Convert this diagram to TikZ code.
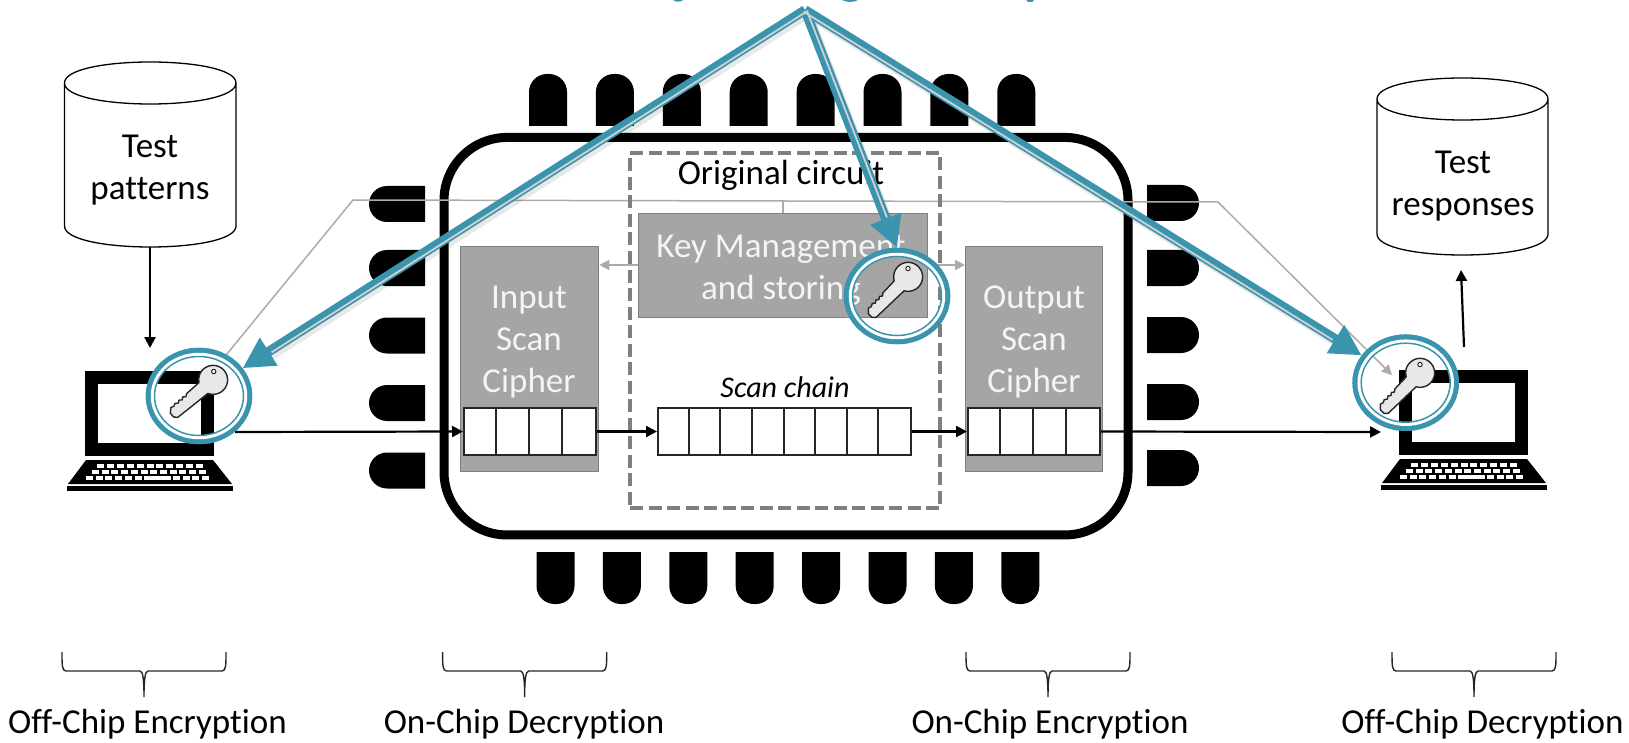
\documentclass[tikz,border=0pt]{standalone}
\usepackage{fontspec}
\setmainfont[Ligatures=NoCommon]{Carlito}
\usetikzlibrary{arrows.meta,shapes.geometric}
\definecolor{tealc}{HTML}{3A94AD}
\definecolor{boxgray}{HTML}{A5A5A5}
\definecolor{edgegray}{HTML}{7F7F7F}
\definecolor{thingray}{HTML}{ABABAB}
\definecolor{soft}{HTML}{F4F4F4}
\tikzset{
  txt/.style={font=\fontsize{35}{42}\selectfont,align=center,inner sep=0pt},
  whitetxt/.style={txt,text=soft},
  graybox/.style={draw=edgegray,line width=1.3pt,fill=boxgray,inner sep=0pt,anchor=north west},
  regbox/.style={draw=black!85,line width=2pt,fill=white,inner sep=0pt,anchor=north west,minimum height=47pt},
  cell/.style={draw=black!85,line width=2pt},
  flow/.style={line width=2.2pt,-{Triangle[length=11pt,width=11pt]}},
  thinflow/.style={draw=thingray,line width=1.5pt,-{Triangle[length=10pt,width=10pt]}},
  thinline/.style={draw=thingray,line width=1.5pt},
  tealarrow/.style={draw=tealc,line width=9.5pt,-{Triangle[length=31pt,width=31pt]}},
  tealinner/.style={draw=black!18,line width=1.8pt,shorten >=33pt},
  tealshadow/.style={draw=black,opacity=.09,line width=10pt,shorten >=30pt},
  ringout/.style={ellipse,draw=tealc,line width=6.5pt,minimum width=100pt,minimum height=90pt,inner sep=0pt},
  ringgap/.style={ellipse,draw=white,line width=3.5pt,minimum width=93pt,minimum height=83pt,inner sep=0pt},
  ringin/.style={ellipse,draw=tealc,line width=1.5pt,minimum width=89pt,minimum height=79pt,inner sep=0pt},
  brc/.style={draw=black!85,line width=1.4pt},
  laptop/.pic={
    \node[draw=black,fill=white,line width=13pt,minimum width=116pt,minimum height=72pt,inner sep=0pt] (-screen) at (64.5,42.5) {};
    \fill[black] (1,89) -- (128,89) -- (147,113) -- (-17,113) -- cycle;
    \fill[black] (-18,114.5) rectangle (148,120);
    \foreach \i in {0,...,10} \fill[white] ({12+9.9*\i},93.3) rectangle ++(7,3.4);
    \foreach \i in {0,...,11} \fill[white] ({7+9.7*\i},99.3) rectangle ++(7,3.4);
    \foreach \i in {0,...,5} \fill[white] ({1+9.7*\i},105.3) rectangle ++(7,3.4);
    \fill[white] (59,105.3) rectangle ++(27,3.4);
    \foreach \i in {0,...,3} \fill[white] ({88+9.7*\i},105.3) rectangle ++(7,3.4);
  },
  keyicon/.pic={
    \draw[x=1pt,y=1pt,fill=black!9,draw=black!85,line width=1.4pt,line join=round]
      (12.5,-7) -- (29,-6.5) -- (31.5,-4.6) -- (34,-6.5) -- (36.5,-4.6) -- (39,-6.5) -- (41.5,-4.6) -- (44,-6.5) -- (47,-5) -- (50,-6)
      -- (54,-2) -- (54,3) -- (51,6) -- (12.5,7)
      arc[start angle=29,end angle=331,radius=14.5] -- cycle;
    \draw[x=1pt,y=1pt,fill=white,draw=black!85,line width=1pt] (-6,-6) circle (2.2);
  }
}
\newcommand{\cylshape}[5]{% x1 x2 centre-y-top y-bottom ry-control
  \draw[line width=1.3pt,fill=white] (#1,#3) -- (#1,#4) .. controls (#1,#4+#5) and (#2,#4+#5) .. (#2,#4) -- (#2,#3)
    .. controls (#2,#3-#5) and (#1,#3-#5) .. (#1,#3) .. controls (#1,#3+#5) and (#2,#3+#5) .. (#2,#3);
}
\newcommand{\bracemark}[2]{% left right
  \pgfmathsetmacro{\mymid}{(#1+#2)/2}
  \draw[brc] (#1,652) .. controls (#1,665) and (#1,671) .. (#1+4,671) -- (\mymid-4,671)
     .. controls (\mymid-1,671) and (\mymid,680) .. (\mymid,697)
     .. controls (\mymid,680) and (\mymid+1,671) .. (\mymid+4,671) -- (#2-4,671)
     .. controls (#2,671) and (#2,665) .. (#2,652);
}
\begin{document}
\begin{tikzpicture}[x=1pt,y=-1pt]
\useasboundingbox (0,0) rectangle (1629,743);
% cropped title descenders
\fill[tealc] (673,0) .. controls (675,2.2) and (681,2.2) .. (683,0) -- cycle;
\fill[tealc] (842,0) .. controls (846,2.6) and (854,2.6) .. (858,0) -- cycle;
\fill[tealc] (1026,0) -- (1028,2) -- (1032,2) -- (1034,0) -- cycle;
% pins
\foreach \c in {0,...,7} {
  \pgfmathsetmacro{\px}{529+66.9*\c}
  \fill[black] (\px,126) [rounded corners=18pt] -- (\px,74) -- (\px+38,74) [sharp corners] -- (\px+38,126) -- cycle;
  \pgfmathsetmacro{\qx}{536.5+66.4*\c}
  \fill[black] (\qx,552) -- (\qx+38,552) [rounded corners=18pt] -- (\qx+38,604) -- (\qx,604) [sharp corners] -- cycle;
}
\foreach \c in {204,268,335.5,403,470.5}
  \fill[black] (425,\c-18) [rounded corners=18pt] -- (369,\c-18) -- (369,\c+18) [sharp corners] -- (425,\c+18) -- cycle;
\foreach \c in {203,268,335,402,468}
  \fill[black] (1147,\c-18) [rounded corners=18pt] -- (1199,\c-18) -- (1199,\c+18) [sharp corners] -- (1147,\c+18) -- cycle;
% chip
\node[draw=black,line width=9pt,rounded corners=63pt,minimum width=684pt,minimum height=397.5pt,inner sep=0pt] (chip) at (786,336.2) {};
% databases
\cylshape{64.5}{236}{83}{226}{28}
\cylshape{1377}{1548}{99}{234}{28}
\node[txt] (patterns) at (150,170.5) {Test\\patterns};
\node[txt] (responses) at (1463,186.5) {Test\\responses};
% laptops
\pic (lapL) at (85,371) {laptop};
\pic (lapR) at (1399,370) {laptop};
% free ends
\coordinate (apex) at (805,10);
\coordinate (grayL) at (222,360);
\coordinate (grayA) at (353,200);
\coordinate (grayB) at (1218,202);
\coordinate (grayT) at (1392,375);
\coordinate (outL) at (235,432);
\coordinate (inR) at (1381,432);
\coordinate (dbL) at (150,247);
\coordinate (dbLe) at (150,348);
\coordinate (dbR) at (1461,270);
\coordinate (dbRs) at (1464,347);
% thin gray key distribution
\draw[thinline] (grayL) -- (grayA) -- (grayB);
\draw[thinflow] (grayB) -- (grayT);
% dashed original circuit
\node[draw=edgegray,line width=4pt,dash pattern=on 13pt off 5.5pt,minimum width=310pt,minimum height=355pt,inner sep=0pt,anchor=north west] (orig) at (628,151) {};
% boxes
\node[graybox,minimum width=289pt,minimum height=104pt] (kms) at (638,213) {};
\node[graybox,minimum width=138pt,minimum height=225pt] (inbox) at (460,246) {};
\node[graybox,minimum width=137pt,minimum height=225pt] (outbox) at (965,246) {};
\draw[thinline] (kms.north) -- (kms.north |- grayA);
\coordinate (kmsL) at (638,265);
\coordinate (kmsR) at (927,265);
\draw[thinflow] (kmsL) -- (inbox.east |- kmsL);
\draw[thinflow] (kmsR) -- (outbox.west |- kmsR);
\node[txt] (orgtxt) at (781,175.5) {Original circuit};
\node[whitetxt] (kmstxt) at (781,270) {Key Management\\and storing};
\node[whitetxt] (intxt) at (529,342) {Input\\Scan\\Cipher};
\node[whitetxt] (outtxt) at (1034,342) {Output\\Scan\\Cipher};
\node[txt,font=\fontsize{30}{34}\selectfont\itshape] (sctxt) at (785,387) {Scan chain};
% registers
\node[regbox,minimum width=132pt] (regI) at (463,407) {};
\node[regbox,minimum width=253pt] (regS) at (657,407) {};
\node[regbox,minimum width=132pt] (regO) at (967,407) {};
\foreach \i in {1,2,3} {
  \draw[cell] (463+33*\i,407) -- (463+33*\i,454);
  \draw[cell] (967+33*\i,407) -- (967+33*\i,454);
}
\foreach \i in {1,...,7}
  \draw[cell] (657+31.625*\i,407) -- (657+31.625*\i,454);
% black flow arrows
\draw[flow] (dbL) -- (dbLe);
\draw[flow] (dbRs) -- (dbR);
\draw[flow] (outL) -- (regI.west);
\draw[flow] (regI.east) -- (regS.west);
\draw[flow] (regS.east) -- (regO.west);
\draw[flow] (regO.east) -- (inR);
% rings (positions)
\node[ringout] (ringL) at (199,396) {};
\node[ringout] (ringM) at (897,296) {};
\node[ringout] (ringR) at (1405.7,382.7) {};
% teal arrows
\begin{scope}[transform canvas={shift={(2.5pt,-3.5pt)}}]
  \draw[tealshadow] (apex) -- (ringL);
  \draw[tealshadow] (apex) -- (ringM.north);
  \draw[tealshadow] (apex) -- (ringR);
\end{scope}
\draw[tealarrow] (apex) -- (ringL);
\draw[tealarrow] (apex) -- (ringM.north);
\draw[tealarrow] (apex) -- (ringR);
\draw[tealinner,transform canvas={shift={(1.2pt,-1.8pt)}}] (apex) -- (ringL);
\draw[tealinner,transform canvas={shift={(1.8pt,-.5pt)}}] (apex) -- (ringM.north);
\draw[tealinner,transform canvas={shift={(-1.2pt,-1.8pt)}}] (apex) -- (ringR);
% rings
\foreach \r in {ringL,ringM,ringR} {
  \node[ringout] at (\r) {};
  \node[ringgap] at (\r) {};
  \node[ringin] at (\r) {};
}
% keys
\pic[rotate=220] at (213,380) {keyicon};
\pic[rotate=225] at (908,277) {keyicon};
\pic[rotate=225] at (1420,373) {keyicon};
% braces and labels
\bracemark{62}{226}
\bracemark{442.6}{606.7}
\bracemark{966}{1130}
\bracemark{1392}{1556}
\node[txt] (l1) at (147.5,724.5) {Off-Chip Encryption};
\node[txt] (l2) at (524,724.5) {On-Chip Decryption};
\node[txt] (l3) at (1050,724.5) {On-Chip Encryption};
\node[txt] (l4) at (1482.5,724.5) {Off-Chip Decryption};
\end{tikzpicture}
\end{document}
